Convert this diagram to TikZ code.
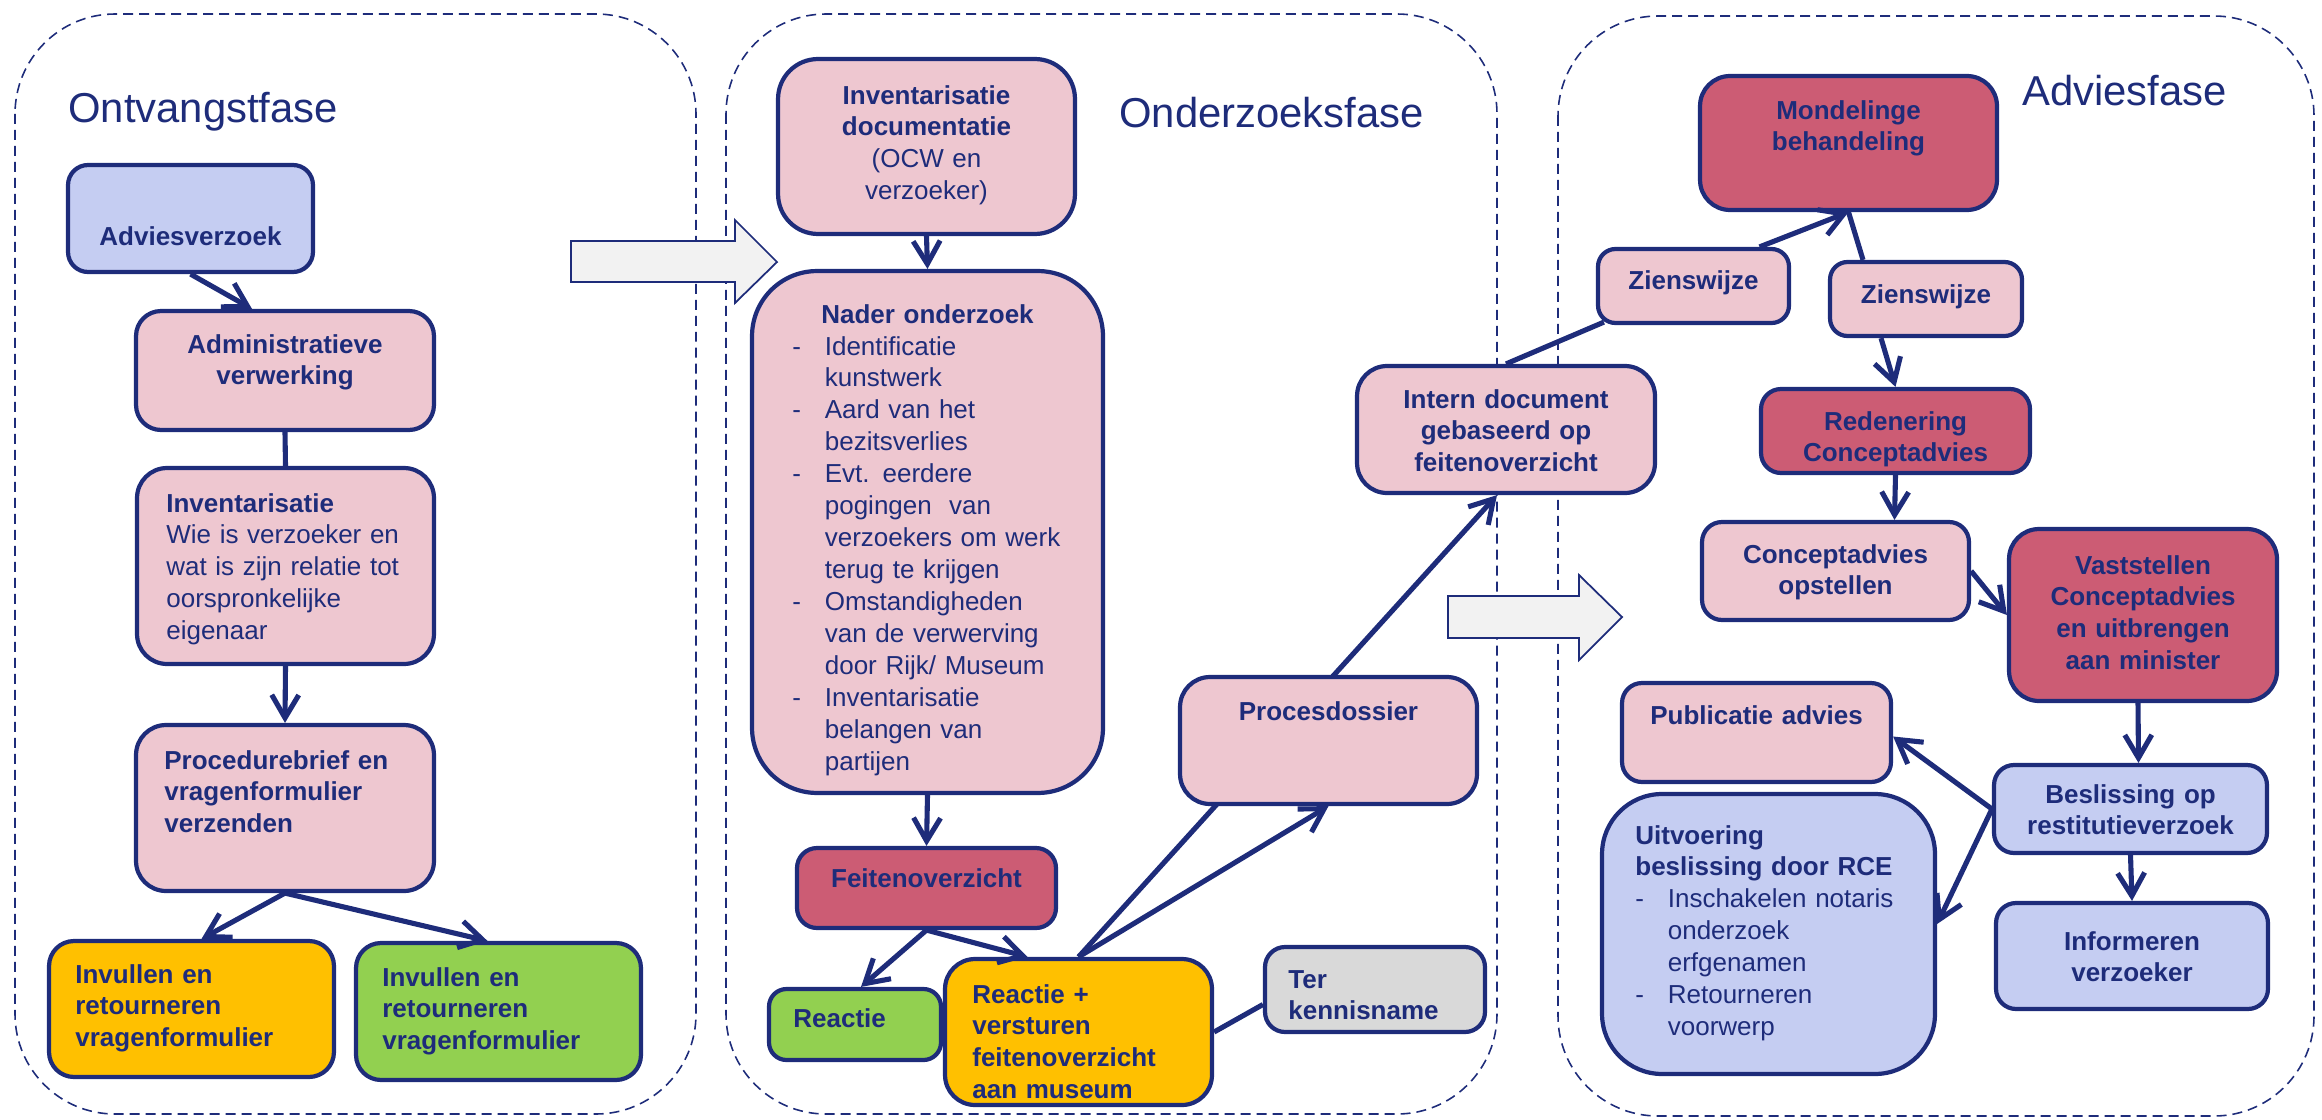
\documentclass[tikz,border=0pt]{standalone}
\usepackage{fontspec}
\setmainfont{Liberation Sans}
\usepackage{tikz}
\usetikzlibrary{arrows.meta,calc,backgrounds}
\definecolor{lijnkleur}{RGB}{30,44,122}
\definecolor{roze}{RGB}{238,199,208}
\definecolor{donkerroze}{RGB}{204,92,116}
\definecolor{lichtblauw}{RGB}{197,205,242}
\definecolor{oranje}{RGB}{255,192,0}
\definecolor{groen}{RGB}{146,208,80}
\definecolor{grijs}{RGB}{217,217,217}
\definecolor{pijlgrijs}{RGB}{242,242,242}
\newcommand{\streep}{\makebox[0.65cm][l]{-}}
\newcommand{\inspring}{\hspace*{0.65cm}}

\begin{document}
\begin{tikzpicture}[x=0.02cm,y=-0.02cm,
	fase/.style={draw=lijnkleur,line width=0.9pt,dash pattern=on 0.2cm off 0.12cm,rounded corners=2cm},
	blokpijl/.style={draw=lijnkleur,fill=pijlgrijs,line width=1pt},
	vak/.style={draw=lijnkleur,line width=2.4pt,inner sep=0pt},
	rozevak/.style={vak,fill=roze},
	donkervak/.style={vak,fill=donkerroze},
	blauwvak/.style={vak,fill=lichtblauw},
	oranjevak/.style={vak,fill=oranje},
	groenvak/.style={vak,fill=groen},
	grijsvak/.style={vak,fill=grijs},
	tekst/.style={text=lijnkleur,inner sep=0pt,text width=7cm,font=\fontsize{14.8}{18.2}\selectfont\bfseries},
	midden/.style={tekst,align=center,anchor=base},
	links/.style={tekst,align=left,anchor=base west},
	titel/.style={text=lijnkleur,inner sep=0pt,anchor=base west,font=\fontsize{23.8}{28}\selectfont},
	lijn/.style={draw=lijnkleur,line width=2.9pt},
	pijl/.style={lijn,-{Straight Barb[length=4.6mm,width=5.4mm]}}]
	\useasboundingbox (0,0) rectangle (2322,1119);
	\draw[fase] (15,14) rectangle (696,1114);
	\draw[fase] (726,14) rectangle (1497,1114);
	\draw[fase] (1558,16) rectangle (2314,1116);
	\draw[blokpijl] (571,241) -- (735,241) -- (735,220) -- (777,262) -- (735,303) -- (735,282) -- (571,282) -- cycle;
	\draw[blokpijl] (1448,596) -- (1579,596) -- (1579,575) -- (1622,617) -- (1579,660) -- (1579,638) -- (1448,638) -- cycle;
	\node[titel] (ontvT) at (68,122) {Ontvangstfase};
	\node[titel] (ondzT) at (1119,127) {Onderzoeksfase};
	\node[titel] (advfT) at (2022,105) {Adviesfase};

	\node[blauwvak,minimum width=4.9cm,minimum height=2.14cm,rounded corners=0.4cm] (advz) at (190.5,218.5) {};
	\node[rozevak,minimum width=5.96cm,minimum height=2.38cm,rounded corners=0.5cm] (admv) at (285,370.5) {};
	\node[rozevak,minimum width=5.94cm,minimum height=3.92cm,rounded corners=0.6cm] (inv) at (285.5,566) {};
	\node[rozevak,minimum width=5.96cm,minimum height=3.32cm,rounded corners=0.6cm] (proc) at (285,808) {};
	\node[oranjevak,minimum width=5.7cm,minimum height=2.72cm,rounded corners=0.5cm] (invo) at (191.5,1009) {};
	\node[groenvak,minimum width=5.7cm,minimum height=2.74cm,rounded corners=0.5cm] (invg) at (498.5,1011.5) {};
	\node[midden] (advzT) at (190.5,245) {Adviesverzoek};
	\node[midden] (admvT) at (285,353) {Administratieve\\verwerking};
	\node[links] (invT) at (166,512) {Inventarisatie\\{\mdseries Wie is verzoeker en\\wat is zijn relatie tot\\oorspronkelijke\\eigenaar}};
	\node[links] (procT) at (164,769) {Procedurebrief en\\vragenformulier\\verzenden};
	\node[links] (invoT) at (75,983) {Invullen en\\retourneren\\vragenformulier};
	\node[links] (invgT) at (382,986) {Invullen en\\retourneren\\vragenformulier};

	\node[rozevak,minimum width=5.94cm,minimum height=3.5cm,rounded corners=0.8cm] (invd) at (926.5,146.5) {};
	\node[rozevak,minimum width=7.02cm,minimum height=10.44cm,rounded corners=1.3cm] (nader) at (927.5,532) {};
	\node[donkervak,minimum width=5.18cm,minimum height=1.6cm,rounded corners=0.4cm] (feit) at (926.5,888) {};
	\node[groenvak,minimum width=3.44cm,minimum height=1.42cm,rounded corners=0.35cm] (reac) at (855,1024.5) {};
	\node[oranjevak,minimum width=5.34cm,minimum height=2.92cm,rounded corners=0.6cm] (reacp) at (1078.5,1032) {};
	\node[grijsvak,minimum width=4.4cm,minimum height=1.7cm,rounded corners=0.4cm] (ter) at (1375,989.5) {};
	\node[rozevak,minimum width=5.94cm,minimum height=2.54cm,rounded corners=0.6cm] (procd) at (1328.5,740.5) {};
	\node[rozevak,minimum width=5.96cm,minimum height=2.54cm,rounded corners=0.6cm] (intd) at (1506,429.5) {};
	\node[midden] (invdT) at (926.5,104) {Inventarisatie\\documentatie\\{\mdseries (OCW en\\verzoeker)}};
	\node[midden] (naderH) at (927.5,323) {Nader onderzoek};
	\node[links,font=\fontsize{14.8}{18.2}\selectfont\mdseries] (naderL) at (792,355) {\streep Identificatie\\\inspring kunstwerk\\\streep Aard van het\\\inspring bezitsverlies\\\streep Evt. eerdere\\\inspring pogingen\ \ van\\\inspring verzoekers om werk\\\inspring terug te krijgen\\\streep Omstandigheden\\\inspring van de verwerving\\\inspring door Rijk/ Museum\\\streep Inventarisatie\\\inspring belangen van\\\inspring partijen};
	\node[midden] (feitT) at (926.5,887) {Feitenoverzicht};
	\node[links] (reacT) at (793,1027) {Reactie};
	\node[links] (reacpT) at (972,1003) {Reactie +\\versturen\\feitenoverzicht\\aan museum};
	\node[links] (terT) at (1288,988) {Ter\\kennisname};
	\node[midden] (procdT) at (1328.5,720) {Procesdossier};
	\node[midden] (intdT) at (1506,408) {Intern document\\gebaseerd op\\feitenoverzicht};

	\node[donkervak,minimum width=5.94cm,minimum height=2.68cm,rounded corners=0.6cm] (mond) at (1848.5,143) {};
	\node[rozevak,minimum width=3.82cm,minimum height=1.48cm,rounded corners=0.35cm] (zien1) at (1693.5,286) {};
	\node[rozevak,minimum width=3.84cm,minimum height=1.48cm,rounded corners=0.35cm] (zien2) at (1926,299) {};
	\node[donkervak,minimum width=5.38cm,minimum height=1.68cm,rounded corners=0.4cm] (red) at (1895.5,431) {};
	\node[rozevak,minimum width=5.34cm,minimum height=1.96cm,rounded corners=0.4cm] (conc) at (1835.5,571) {};
	\node[donkervak,minimum width=5.36cm,minimum height=3.44cm,rounded corners=0.6cm] (vast) at (2143,615) {};
	\node[rozevak,minimum width=5.38cm,minimum height=1.98cm,rounded corners=0.4cm] (publ) at (1756.5,732.5) {};
	\node[blauwvak,minimum width=6.66cm,minimum height=5.6cm,rounded corners=1.2cm] (uitv) at (1768.5,934) {};
	\node[blauwvak,minimum width=5.46cm,minimum height=1.76cm,rounded corners=0.4cm] (besl) at (2130.5,809) {};
	\node[blauwvak,minimum width=5.44cm,minimum height=2.12cm,rounded corners=0.4cm] (info) at (2132,956) {};
	\node[midden] (mondT) at (1848.5,119) {Mondelinge\\behandeling};
	\node[midden] (zien1T) at (1693.5,289) {Zienswijze};
	\node[midden] (zien2T) at (1926,303) {Zienswijze};
	\node[midden] (redT) at (1895.5,430) {Redenering\\Conceptadvies};
	\node[midden] (concT) at (1835.5,563) {Conceptadvies\\opstellen};
	\node[midden] (vastT) at (2143,574) {Vaststellen\\Conceptadvies\\en uitbrengen\\aan minister};
	\node[midden] (publT) at (1756.5,724) {Publicatie advies};
	\node[links] (uitvT) at (1635,844) {Uitvoering\\beslissing door RCE\\{\mdseries\streep Inschakelen notaris\\\inspring onderzoek\\\inspring erfgenamen\\\streep Retourneren\\\inspring voorwerp}};
	\node[midden] (beslT) at (2130.5,803) {Beslissing op\\restitutieverzoek};
	\node[midden] (infoT) at (2132,950) {Informeren\\verzoeker};

	\draw[pijl] (advz.south) -- ($(admv.north)+(-33,0)$);
	\draw[lijn] (admv.south) -- (inv.north);
	\draw[pijl] (inv.south) -- (proc.north);
	\draw[pijl] (proc.south) -- ($(invo.north)+(10,0)$);
	\draw[pijl] (proc.south) -- ($(invg.north)+(-11,0)$);
	\draw[pijl] (invd.south) -- (nader.north);
	\draw[pijl] (nader.south) -- (feit.north);
	\draw[pijl] (feit.south) -- ($(reac.north)+(6,0)$);
	\draw[pijl] (feit.south) -- ($(reacp.north)+(-51,0)$);
	\draw[pijl] (reacp.north) -- (procd.south);
	\draw[lijn] (reacp.east) -- ($(ter.west)+(0,15)$);
	\begin{scope}[on background layer]
		\draw[pijl] (reacp.north) -- ($(intd.south)+(-9,0)$);
	\end{scope}
	\draw[lijn] (intd.north) -- ($(zien1.south west)+(8,-3)$);
	\draw[pijl] ($(zien1.north)+(66,0)$) -- (mond.south);
	\draw[lijn] (mond.south) -- ($(zien2.north)+(-63,0)$);
	\draw[pijl] ($(zien2.south)+(-45,0)$) -- (red.north);
	\draw[pijl] (red.south) -- ($(conc.north)+(59,0)$);
	\draw[pijl] (conc.east) -- (vast.west);
	\draw[pijl] ($(vast.south)+(-5,0)$) -- ($(besl.north)+(8,0)$);
	\draw[pijl] (besl.west) -- ($(publ.east)+(0,4)$);
	\draw[pijl] (besl.west) -- ($(uitv.east)+(0,-10)$);
	\draw[pijl] (besl.south) -- (info.north);
\end{tikzpicture}
\end{document}
